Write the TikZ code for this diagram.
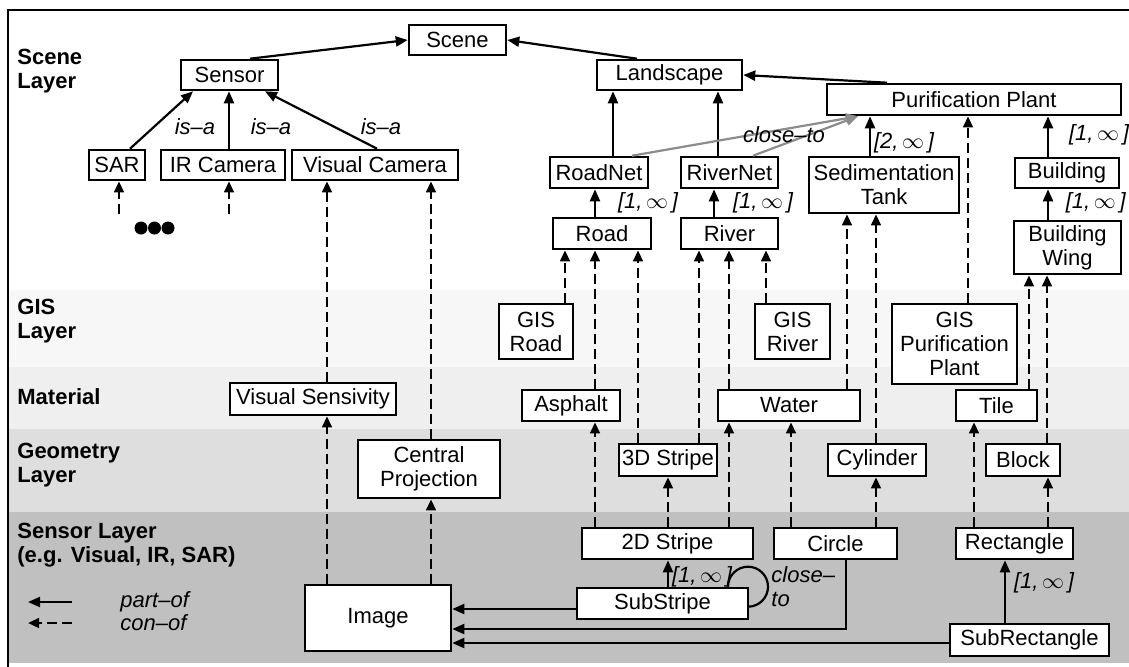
\documentclass[tikz,border=0pt]{standalone}
\usepackage{fontspec}
\setmainfont{Liberation Sans}
\usetikzlibrary{arrows.meta}
\definecolor{gisc}{HTML}{F7F7F7}
\definecolor{matc}{HTML}{EFEFEF}
\definecolor{geoc}{HTML}{DEDEDE}
\definecolor{senc}{HTML}{C0C0C0}
\definecolor{clgray}{HTML}{8C8C8C}
\tikzset{
  box/.style={draw=black, line width=1.3pt, fill=white, inner sep=0pt, align=center,
              font=\fontsize{11}{12}\selectfont},
  wh/.style 2 args={minimum width=#1*0.5pt, minimum height=#2*0.5pt},
  po/.style={line width=1.1pt, -{Triangle[length=6pt,width=5pt]}},
  co/.style={line width=1.2pt, dash pattern=on 5pt off 2.5pt, -{Triangle[length=5.5pt,width=4.8pt]}},
  cl/.style={line width=1.1pt, draw=clgray, -{Triangle[length=6pt,width=5pt]}},
  lbl/.style={font=\fontsize{11}{12}\selectfont\itshape, inner sep=0pt, align=left},
  layer/.style={font=\fontsize{11}{12}\selectfont\bfseries, align=left, anchor=west, inner sep=0pt},
}
\begin{document}
\begin{tikzpicture}[x=0.5pt,y=-0.5pt]
\useasboundingbox (0,0) rectangle (1129,666);
% bands
\fill[white] (8,10) rectangle (1131,290);
\fill[gisc] (8,290) rectangle (1131,367);
\fill[matc] (8,367) rectangle (1131,429);
\fill[geoc] (8,429) rectangle (1131,512);
\fill[senc] (8,512) rectangle (1131,663);
\draw[line width=1.3pt] (8,670) -- (8,10) -- (1131,10);
% layer labels
\node[layer] (lscene) at (17,71) {Scene\\Layer};
\node[layer] (lgis) at (17,321) {GIS\\Layer};
\node[layer] (lmat) at (17,397) {Material};
\node[layer] (lgeo) at (17,465) {Geometry\\Layer};
\node[layer] (lsen) at (17,545) {Sensor Layer\\(e.g. Visual, IR, SAR)};
% nodes
\node[box,wh={97}{30}] (scene) at (457.5,40) {Scene};
\node[box,wh={97}{30}] (sensor) at (229.5,75) {Sensor};
\node[box,wh={145}{30}] (landscape) at (669.5,75) {Landscape};
\node[box,wh={294}{31}] (pp) at (974,99.5) {Purification Plant};
\node[box,wh={56}{30}] (sar) at (117,165) {SAR};
\node[box,wh={124}{30}] (ircam) at (223,165) {IR Camera};
\node[box,wh={166}{30}] (viscam) at (375,165) {Visual Camera};
\node[box,wh={98}{31}] (roadnet) at (599,172.5) {RoadNet};
\node[box,wh={97}{31}] (rivernet) at (729.5,172.5) {RiverNet};
\node[box,wh={150}{56}] (sedtank) at (884,185) {Sedimentation\\Tank};
\node[box,wh={104}{30}] (building) at (1067,173) {Building};
\node[box,wh={98}{31}] (road) at (602,233.5) {Road};
\node[box,wh={97}{31}] (river) at (729.5,233.5) {River};
\node[box,wh={107}{53}] (bwing) at (1067.5,247.5) {Building\\Wing};
\node[box,wh={74}{55}] (gisroad) at (536,331.5) {GIS\\Road};
\node[box,wh={75}{55}] (gisriver) at (792.5,331.5) {GIS\\River};
\node[box,wh={125}{80}] (gispp) at (954.5,344) {GIS\\Purification\\Plant};
\node[box,wh={166}{32}] (vissens) at (313,399) {Visual Sensivity};
\node[box,wh={98}{31}] (asphalt) at (571,405.5) {Asphalt};
\node[box,wh={142}{31}] (water) at (789,405.5) {Water};
\node[box,wh={81}{31}] (tile) at (996.5,405.5) {Tile};
\node[box,wh={142}{58}] (cproj) at (429,469) {Central\\Projection};
\node[box,wh={98}{32}] (stripe3d) at (668,460) {3D Stripe};
\node[box,wh={98}{32}] (cylinder) at (877,460) {Cylinder};
\node[box,wh={74}{32}] (block) at (1023,460) {Block};
\node[box,wh={171}{31}] (stripe2d) at (667.5,543.5) {2D Stripe};
\node[box,wh={123}{31}] (circle) at (835.5,543.5) {Circle};
\node[box,wh={117}{31}] (rectangle) at (1014.5,543.5) {Rectangle};
\node[box,wh={171}{31}] (substripe) at (662.5,603.5) {SubStripe};
\node[box,wh={146}{66}] (image) at (378,618) {Image};
\node[box,wh={159}{32}] (subrect) at (1029.5,640) {SubRectangle};
% part-of
\draw[po] (sensor.north -| 250,0) -- (scene.west);
\draw[po] (landscape.north -| 637,0) -- (scene.east);
\draw[po] (pp.north -| 887,0) -- (landscape.east);
\draw[po] (sar.north -| 130,0) -- (sensor.south -| 193,0);
\draw[po] (ircam.north -| 229,0) -- (sensor.south -| 229,0);
\draw[po] (viscam.north -| 377,0) -- (sensor.south -| 265,0);
\draw[po] (roadnet.north -| 613,0) -- (landscape.south -| 613,0);
\draw[po] (rivernet.north -| 718,0) -- (landscape.south -| 718,0);
\draw[po] (road.north -| 595,0) -- (roadnet.south -| 595,0);
\draw[po] (river.north -| 714,0) -- (rivernet.south -| 714,0);
\draw[po] (sedtank.north -| 870,0) -- (pp.south -| 870,0);
\draw[po] (building.north -| 1048,0) -- (pp.south -| 1048,0);
\draw[po] (bwing.north -| 1048,0) -- (building.south -| 1048,0);
\draw[po] (substripe.north -| 668,0) -- (stripe2d.south -| 668,0);
\draw[po] (subrect.north -| 1005,0) -- (rectangle.south -| 1005,0);
\draw[po] (substripe.west |- 0,609) -- (image.east |- 0,609);
\draw[po] (circle.south -| 846,0) |- (image.east |- 0,629);
\draw[po] (subrect.west |- 0,643) -- (image.east |- 0,643);
\draw[line width=1.1pt] (substripe.north -| 728,0) arc[start angle=180,end angle=450,radius=20];
% close-to (grey)
\draw[cl] (roadnet.north -| 632,0) -- (pp.south -| 858,0);
\draw[cl] (rivernet.north -| 753,0) -- (pp.south -| 858,0);
% con-of
\coordinate (dsar) at (119,214);
\coordinate (dir) at (229,214);
\draw[co] (dsar) -- (sar.south -| 119,0);
\draw[co] (dir) -- (ircam.south -| 229,0);
\draw[co] (vissens.north -| 327,0) -- (viscam.south -| 327,0);
\draw[co] (image.north -| 327,0) -- (vissens.south -| 327,0);
\draw[co] (cproj.north -| 431,0) -- (viscam.south -| 431,0);
\draw[co] (image.north -| 431,0) -- (cproj.south -| 431,0);
\draw[co] (gisroad.north -| 565,0) -- (road.south -| 565,0);
\draw[co] (asphalt.north -| 595,0) -- (road.south -| 595,0);
\draw[co] (stripe3d.north -| 638,0) -- (road.south -| 638,0);
\draw[co] (stripe3d.north -| 699,0) -- (river.south -| 699,0);
\draw[co] (water.north -| 729,0) -- (river.south -| 729,0);
\draw[co] (gisriver.north -| 766,0) -- (river.south -| 766,0);
\draw[co] (water.north -| 847,0) -- (sedtank.south -| 847,0);
\draw[co] (cylinder.north -| 876,0) -- (sedtank.south -| 876,0);
\draw[co] (gispp.north -| 968,0) -- (pp.south -| 968,0);
\draw[co] (tile.north -| 1029,0) -- (bwing.south -| 1029,0);
\draw[co] (block.north -| 1047,0) -- (bwing.south -| 1047,0);
\draw[co] (stripe2d.north -| 595,0) -- (asphalt.south -| 595,0);
\draw[co] (stripe2d.north -| 668,0) -- (stripe3d.south -| 668,0);
\draw[co] (stripe2d.north -| 729,0) -- (water.south -| 729,0);
\draw[co] (circle.north -| 791,0) -- (water.south -| 791,0);
\draw[co] (circle.north -| 876,0) -- (cylinder.south -| 876,0);
\draw[co] (rectangle.north -| 974,0) -- (tile.south -| 974,0);
\draw[co] (rectangle.north -| 1048,0) -- (block.south -| 1048,0);
% dots
\fill (141,228) circle[radius=6.5];
\fill (154.5,228) circle[radius=6.5];
\fill (168,228) circle[radius=6.5];
% labels
\node[lbl] (isa1) at (195,127) {is–a};
\node[lbl] (isa2) at (271,127) {is–a};
\node[lbl] (isa3) at (381,127) {is–a};
\node[lbl] (clto) at (784,135) {close–to};
\node[lbl] (m1) at (648,203) {[1,$\,\infty\,$]};
\node[lbl] (m2) at (763,203) {[1,$\,\infty\,$]};
\node[lbl] (m3) at (904,143) {[2,$\,\infty\,$]};
\node[lbl] (m4) at (1099,135) {[1,$\,\infty\,$]};
\node[lbl,anchor=east] (m5) at (1126,203) {[1,$\,\infty\,$]};
\node[lbl] (m6) at (702,577) {[1,$\,\infty\,$]};
\node[lbl] (m7) at (1044,583) {[1,$\,\infty\,$]};
\node[lbl,anchor=west] (clto2) at (771,587) {close–\\to};
% legend
\coordinate (pa) at (72,602);
\coordinate (pb) at (28,602);
\coordinate (ca) at (72,623);
\coordinate (cb) at (28,623);
\draw[po] (pa) -- (pb);
\draw[co] (ca) -- (cb);
\node[lbl,anchor=west] (lpo) at (120,602) {part–of};
\node[lbl,anchor=west] (lco) at (120,623) {con–of};
\end{tikzpicture}
\end{document}
